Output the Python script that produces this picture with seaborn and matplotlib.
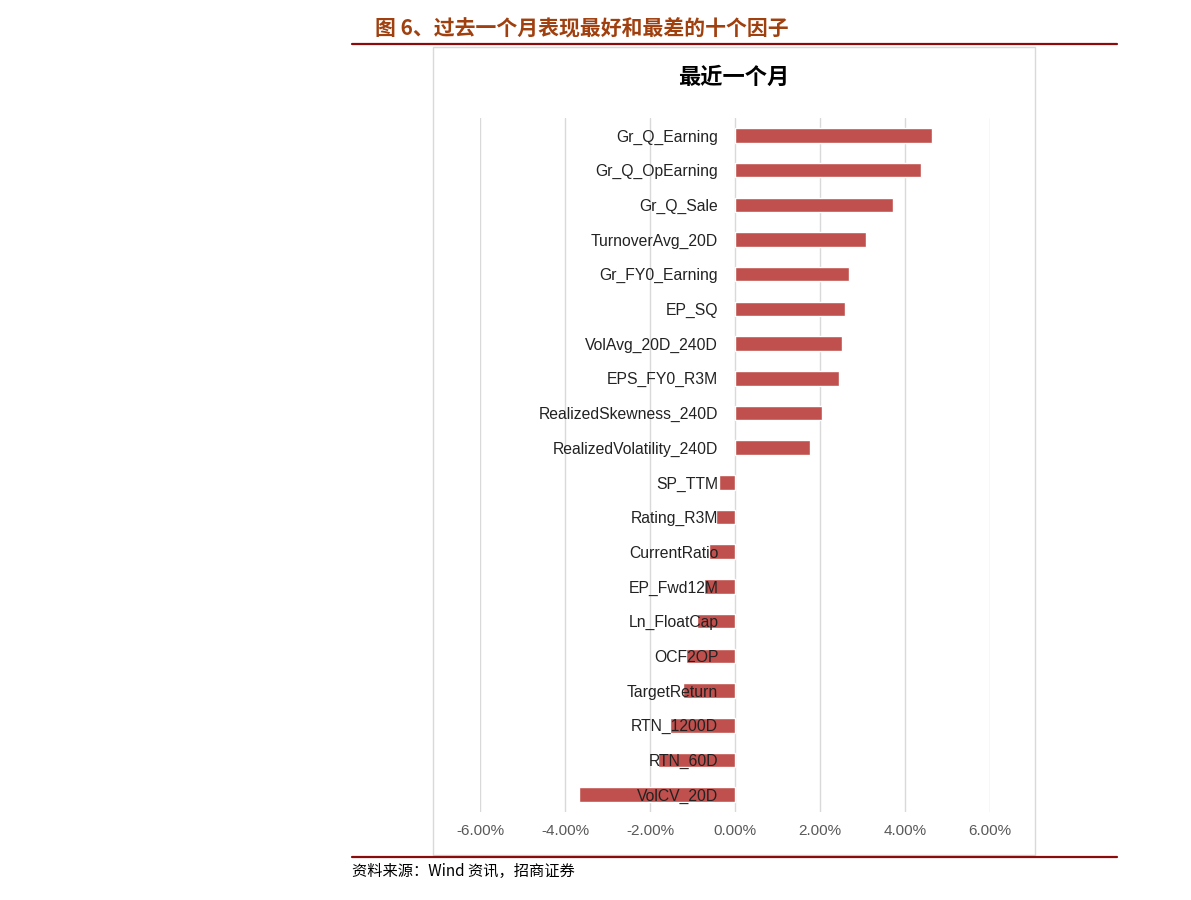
import matplotlib.pyplot as plt
import seaborn as sns
from matplotlib.patches import Rectangle
from matplotlib.lines import Line2D
from matplotlib.ticker import PercentFormatter

# %% data (monthly factor returns, %)
factors = [
    "Gr_Q_Earning", "Gr_Q_OpEarning", "Gr_Q_Sale", "TurnoverAvg_20D",
    "Gr_FY0_Earning", "EP_SQ", "VolAvg_20D_240D", "EPS_FY0_R3M",
    "RealizedSkewness_240D", "RealizedVolatility_240D",
    "SP_TTM", "Rating_R3M", "CurrentRatio", "EP_Fwd12M", "Ln_FloatCap",
    "OCF2OP", "TargetReturn", "RTN_1200D", "RTN_60D", "VolCV_20D",
]
returns = [
    4.64, 4.38, 3.72, 3.08, 2.68, 2.59, 2.52, 2.45, 2.05, 1.76,
    -0.38, -0.44, -0.60, -0.72, -0.89, -1.15, -1.22, -1.54, -1.81, -3.68,
]
xticks = [-6, -4, -2, 0, 2, 4, 6]

fig_title = "图 6、过去一个月表现最好和最差的十个因子"
chart_title = "最近一个月"
source = "资料来源：Wind 资讯，招商证券"

sns.set_style("white")
plt.rcParams["font.family"] = ["Liberation Sans", "Noto Sans CJK SC", "DejaVu Sans"]
plt.rcParams["axes.unicode_minus"] = False
cjk = ["Noto Sans CJK SC", "DejaVu Sans"]

fig = plt.figure(figsize=(11.91, 9), dpi=100)

# chart frame
fig.patches.append(Rectangle((0.3636, 0.05), 0.5055, 0.8978, transform=fig.transFigure,
                             fill=False, edgecolor="#d9d9d9", linewidth=1))
# report header / footer rules
for y in (0.951, 0.0478):
    fig.add_artist(Line2D([0.2955, 0.938], [y, y], transform=fig.transFigure,
                          color="#8B0A0A", linewidth=1.6))

fig.text(0.315, 0.968, fig_title, family=cjk, fontsize=15, fontweight="bold",
         color="#A0400F", va="center", ha="left")
fig.text(0.616, 0.914, chart_title, family=cjk, fontsize=16, fontweight="bold",
         color="black", va="center", ha="center")
fig.text(0.2955, 0.032, source, family=cjk, fontsize=11, color="black",
         va="center", ha="left")

ax = fig.add_axes([0.403, 0.0978, 0.4282, 0.771])
sns.barplot(x=returns, y=factors, orient="h", color="#C0504D", width=0.42,
            saturation=1, ax=ax, zorder=2)

ax.set_xlim(-6, 6)
ax.set_xticks(xticks)
ax.xaxis.set_major_formatter(PercentFormatter(xmax=100, decimals=2))
ax.grid(axis="x", color="#d9d9d9", linewidth=1)
ax.set_axisbelow(True)

for s in ("left", "right", "top", "bottom"):
    ax.spines[s].set_visible(False)
ax.tick_params(axis="y", length=0, labelleft=False)
ax.tick_params(axis="x", length=0, pad=9, labelsize=11, labelcolor="#595959")

# category labels sit just left of the zero line, drawn over the bars
for i, name in enumerate(factors):
    ax.annotate(name, xy=(0, i), xytext=(-12, 0), textcoords="offset points",
                ha="right", va="center_baseline", fontsize=11.3, color="#222222",
                zorder=5)

ax.set_xlabel("")
ax.set_ylabel("")

plt.savefig("out.png", dpi=100)
